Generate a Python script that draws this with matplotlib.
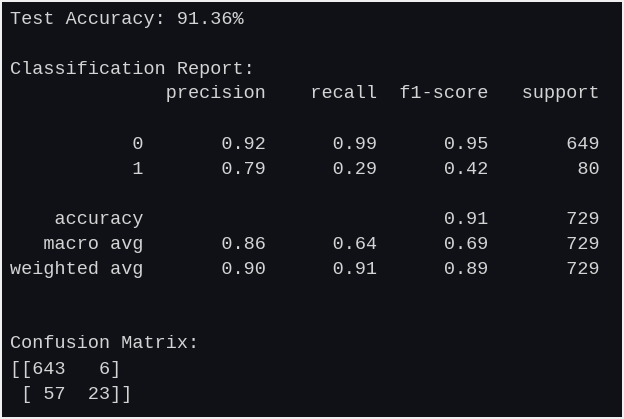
import matplotlib
matplotlib.use("Agg")
import matplotlib.pyplot as plt

test_accuracy = 91.36
classes = ["0", "1"]
precision = [0.92, 0.79]
recall = [0.99, 0.29]
f1 = [0.95, 0.42]
support = [649, 80]
overall_acc = 0.91
avg_names = ["macro avg", "weighted avg"]
avg_precision = [0.86, 0.90]
avg_recall = [0.64, 0.91]
avg_f1 = [0.69, 0.89]
total_support = 729
confusion = [[643, 6], [57, 23]]

W = 12
lines = [f"Test Accuracy: {test_accuracy:.2f}%", "", "Classification Report:"]
lines.append(" " * W + " " + "".join(f" {h:>9}" for h in ["precision", "recall", "f1-score", "support"]))
lines.append("")
for c, p, r, f, s in zip(classes, precision, recall, f1, support):
    lines.append(f"{c:>{W}} " + f" {p:>9.2f} {r:>9.2f} {f:>9.2f} {s:>9}")
lines.append("")
lines.append(f"{'accuracy':>{W}} " + " " * 20 + f" {overall_acc:>9.2f} {total_support:>9}")
for n, p, r, f in zip(avg_names, avg_precision, avg_recall, avg_f1):
    lines.append(f"{n:>{W}} " + f" {p:>9.2f} {r:>9.2f} {f:>9.2f} {total_support:>9}")
lines += ["", "", "Confusion Matrix:"]
lines.append("[[" + f"{confusion[0][0]:3d} {confusion[0][1]:3d}" + "]")
lines.append(" [" + f"{confusion[1][0]:3d} {confusion[1][1]:3d}" + "]]")

fig = plt.figure(figsize=(6.24, 4.19), dpi=100, facecolor="#f0f0f0")
ax = fig.add_axes([2/624, 2/419, 620/624, 415/419])
ax.set_facecolor("#0f1117")
ax.set_xticks([]); ax.set_yticks([])
for s in ax.spines.values():
    s.set_visible(False)
for i, ln in enumerate(lines):
    y = 19 + 25 * i
    fig.text(10/624, 1 - y/419, ln, family="Liberation Mono", fontsize=13.3,
             color="#d4d4d4", va="center", ha="left")
fig.savefig("out.png", dpi=100, facecolor=fig.get_facecolor())
